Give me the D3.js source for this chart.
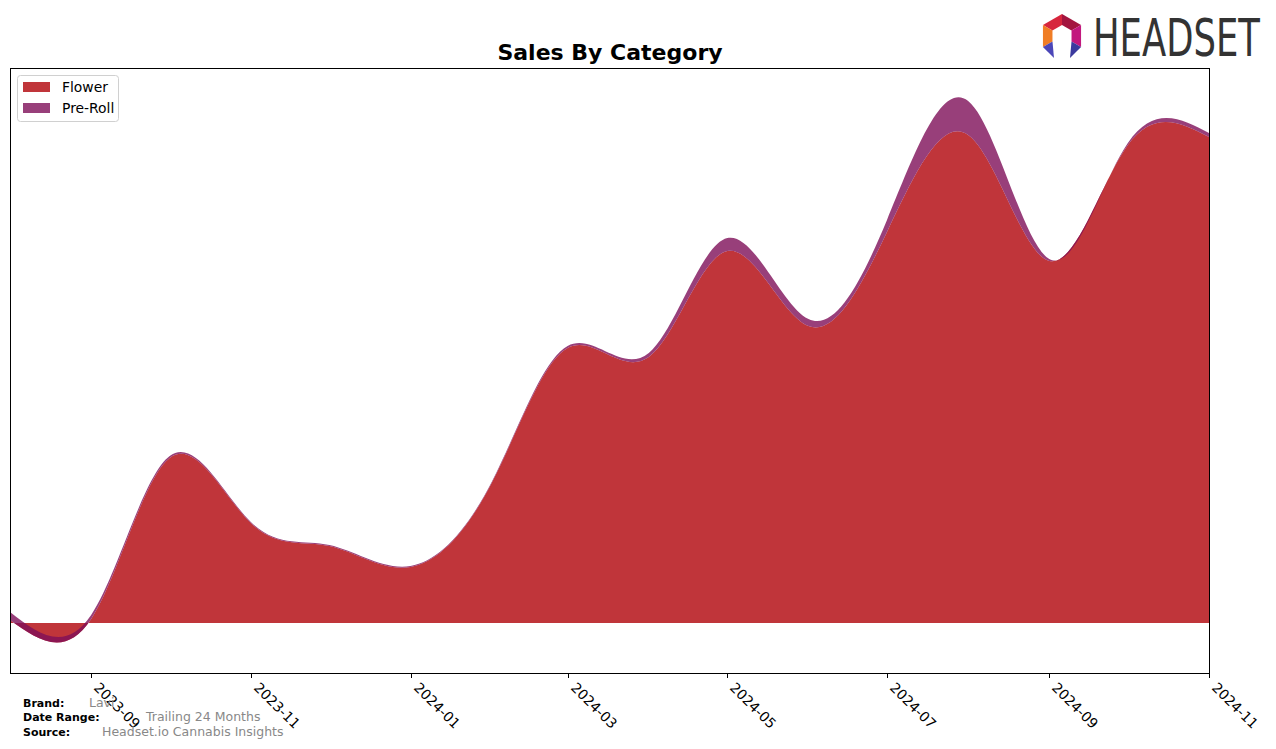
<!DOCTYPE html>
<html><head><meta charset="utf-8">
<script src="https://cdn.jsdelivr.net/npm/d3@7"></script>
<style>body{margin:0;background:#fff;} svg{display:block;font-family:"DejaVu Sans",sans-serif;}</style>
</head><body>
<script>
// ---- data (sales, $K) ----
const months = ["2023-08","2023-09","2023-10","2023-11","2023-12","2024-01","2024-02","2024-03","2024-04","2024-05","2024-06","2024-07","2024-08","2024-09","2024-10","2024-11"];
const flower = [3,4,165,100,77,56,140,275,266,372,297,391,488,362,478,486];
const preRoll = [8,4,2,1,1,1,1,2,4,13,7,12,34,2,2,4];
const categories = ["Flower","Pre-Roll"];
const tickLabels = ["2023-09","2023-11","2024-01","2024-03","2024-05","2024-07","2024-09","2024-11"];
const yLimits = [-50,555];

const W=1276,H=749;
const svg=d3.select("body").append("svg").attr("width",W).attr("height",H);
const parse=d3.utcParse("%Y-%m");
const dates=months.map(parse);
const x=d3.scaleUtc().domain([dates[0],dates[dates.length-1]]).range([10,1209]);
const y=d3.scaleLinear().domain(yLimits).range([673,68]);

const rows=dates.map((d,i)=>({d,f:flower[i],t:flower[i]+preRoll[i]}));
const colF="#b00209", colP="#7e0f59", alpha=0.8;

svg.append("path").datum(rows)
  .attr("d",d3.area().curve(d3.curveNatural).x(r=>x(r.d)).y0(y(0)).y1(r=>y(r.f)))
  .attr("fill",colF).attr("fill-opacity",alpha);
svg.append("path").datum(rows)
  .attr("d",d3.area().curve(d3.curveNatural).x(r=>x(r.d)).y0(r=>y(r.f)).y1(r=>y(r.t)))
  .attr("fill",colP).attr("fill-opacity",alpha);

// frame
svg.append("rect").attr("x",10.5).attr("y",68.5).attr("width",1199).attr("height",605)
  .attr("fill","none").attr("stroke","#000").attr("stroke-width",1);

// x axis ticks
const ax=svg.append("g");
tickLabels.forEach(t=>{
  const px=Math.round(x(parse(t)))+0.5;
  ax.append("line").attr("x1",px).attr("x2",px).attr("y1",673).attr("y2",678).attr("stroke","#000");
  ax.append("text").attr("transform",`translate(${px+9},681) rotate(45)`)
    .attr("dy","0.75em").attr("font-size","13.9px").attr("fill","#000").text(t);
});

// title
svg.append("text").attr("x",610).attr("y",60).attr("text-anchor","middle")
  .attr("font-size","22px").attr("font-weight","bold").text("Sales By Category");

// legend
const lg=svg.append("g");
lg.append("rect").attr("x",17.5).attr("y",75.5).attr("width",101).attr("height",46).attr("rx",3)
  .attr("fill","#fff").attr("fill-opacity",0.8).attr("stroke","#d0d0d0");
[colF,colP].forEach((c,i)=>{
  lg.append("rect").attr("x",23).attr("y",82+i*21).attr("width",27).attr("height",10)
    .attr("fill",c).attr("fill-opacity",alpha);
  lg.append("text").attr("x",62).attr("y",92+i*21).attr("font-size","13.9px").text(categories[i]);
});

// footer
const ft=[["Brand:","Lavi",89,707],["Date Range:","Trailing 24 Months",146,721],["Source:","Headset.io Cannabis Insights",102,736]];
ft.forEach(([a,b,bx,by])=>{
  svg.append("text").attr("x",23).attr("y",by).attr("font-size","11px").attr("font-weight","bold").text(a);
  svg.append("text").attr("x",bx).attr("y",by).attr("font-size","12.5px").attr("fill","#888").text(b);
});

// logo
const cx=1062,cy=36,Ro=22,Ri=11;
const pt=(r,a)=>[cx+r*Math.cos(a*Math.PI/180),cy+r*Math.sin(a*Math.PI/180)];
const segs=[[-150,-90,"#d7263d"],[-90,-30,"#a3153f"],[-30,30,"#c2187e"],[150,210,"#f07d25"]];
const lgG=svg.append("g");
segs.forEach(([a0,a1,c])=>{
  lgG.append("polygon").attr("points",[pt(Ro,a0),pt(Ro,a1),pt(Ri,a1),pt(Ri,a0)].map(p=>p.join(",")).join(" ")).attr("fill",c);
});
lgG.append("polygon").attr("points",[pt(Ro,150),pt(Ri,150),[cx-8,cy+22]].map(p=>p.join(",")).join(" ")).attr("fill","#4b46b8");
lgG.append("polygon").attr("points",[pt(Ro,30),pt(Ri,30),[cx+8,cy+22]].map(p=>p.join(",")).join(" ")).attr("fill","#3b3a9e");
const logoT=svg.append("text").attr("font-size","51px").attr("fill","#333").text("HEADSET");
const natW=logoT.node().getComputedTextLength();
logoT.attr("transform",`translate(1093,56) scale(${167/natW},1)`);
</script>
</body></html>
